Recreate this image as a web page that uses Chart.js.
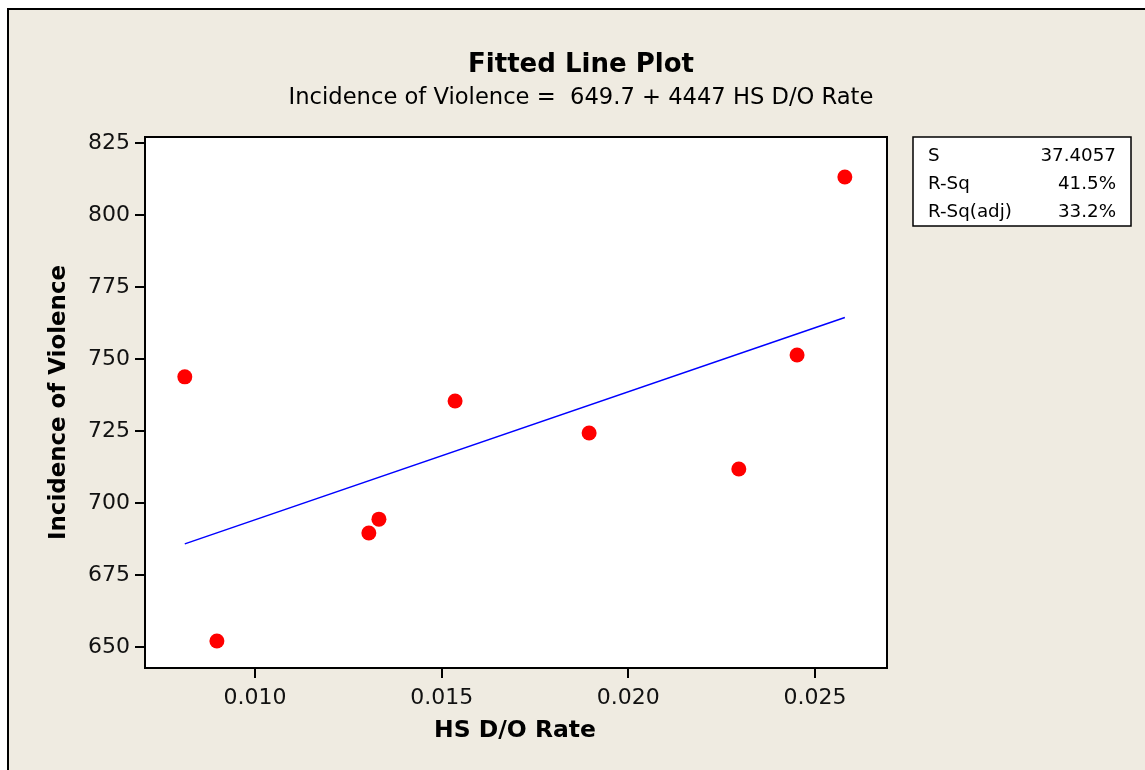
<!DOCTYPE html>
<html>
<head>
<meta charset="utf-8">
<script src="https://cdn.jsdelivr.net/npm/chart.js@4.4.1/dist/chart.umd.min.js"></script>
<style>
html,body{margin:0;padding:0;background:#fff;}
#c{display:block;}
</style>
</head>
<body>
<canvas id="c" width="1145" height="770"></canvas>
<script>
// ---- data ----
const dropoutRate = [0.00812, 0.00898, 0.01305, 0.01332, 0.01536, 0.01895, 0.02296, 0.02452, 0.02580];
const violence    = [743.8, 652.1, 689.6, 694.4, 735.4, 724.3, 711.8, 751.4, 813.2];
const fitX = [0.00812, 0.02580];
const fitY = [685.8, 764.4];
const xTicks = [0.010, 0.015, 0.020, 0.025];
const yTicks = [650, 675, 700, 725, 750, 775, 800, 825];
const titleText = 'Fitted Line Plot';
const subtitleText = 'Incidence of Violence =  649.7 + 4447 HS D/O Rate';
const xTitle = 'HS D/O Rate';
const yTitle = 'Incidence of Violence';
const statLabels = ['S', 'R-Sq', 'R-Sq(adj)'];
const statValues = ['37.4057', '41.5%', '33.2%'];

const FONT = '"DejaVu Sans", Verdana, sans-serif';

function fitFont(ctx, text, weight, family, target) {
  ctx.font = weight + ' 20px ' + family;
  const w = ctx.measureText(text).width;
  const size = 20 * target / w;
  ctx.font = weight + ' ' + size.toFixed(2) + 'px ' + family;
}

const decor = {
  id: 'decor',
  beforeDraw(chart) {
    const ctx = chart.ctx;
    const a = chart.chartArea;
    ctx.save();
    ctx.fillStyle = '#ffffff';
    ctx.fillRect(0, 0, chart.width, chart.height);
    ctx.fillStyle = '#EFEBE1';
    ctx.fillRect(8, 9, chart.width, chart.height);
    ctx.strokeStyle = '#000';
    ctx.lineWidth = 2;
    ctx.beginPath();
    ctx.moveTo(8, chart.height + 5);
    ctx.lineTo(8, 9);
    ctx.lineTo(chart.width + 5, 9);
    ctx.stroke();
    ctx.fillStyle = '#ffffff';
    ctx.fillRect(a.left, a.top, a.right - a.left, a.bottom - a.top);
    ctx.restore();
  },
  afterDraw(chart) {
    const ctx = chart.ctx;
    const a = chart.chartArea;
    ctx.save();
    ctx.strokeStyle = '#000';
    ctx.lineWidth = 2;
    ctx.strokeRect(a.left, a.top, a.right - a.left, a.bottom - a.top);
    ctx.fillStyle = '#000';
    ctx.textAlign = 'center';
    ctx.textBaseline = 'middle';
    fitFont(ctx, titleText, 'bold', FONT, 226);
    ctx.fillText(titleText, 581, 65);
    fitFont(ctx, subtitleText, 'normal', FONT, 585);
    ctx.fillText(subtitleText, 581, 98);
    fitFont(ctx, xTitle, 'bold', FONT, 162);
    ctx.fillText(xTitle, 515, 731);
    ctx.save();
    ctx.translate(59, (a.top + a.bottom) / 2);
    ctx.rotate(-Math.PI / 2);
    fitFont(ctx, yTitle, 'bold', FONT, 275);
    ctx.fillText(yTitle, 0, 0);
    ctx.restore();
    // stats box
    ctx.fillStyle = '#ffffff';
    ctx.fillRect(913, 137, 218, 89);
    ctx.lineWidth = 1.5;
    ctx.strokeRect(913, 137, 218, 89);
    ctx.fillStyle = '#000';
    fitFont(ctx, 'R-Sq(adj)', 'normal', FONT, 84);
    statLabels.forEach((l, i) => {
      const y = 156 + i * 28;
      ctx.textAlign = 'left';
      ctx.fillText(l, 928, y);
      ctx.textAlign = 'right';
      ctx.fillText(statValues[i], 1116, y);
    });
    ctx.restore();
  }
};

new Chart(document.getElementById('c'), {
  type: 'scatter',
  data: {
    datasets: [
      {
        type: 'line',
        label: 'Fit',
        data: fitX.map((x, i) => ({x, y: fitY[i]})),
        borderColor: '#0000FF',
        borderWidth: 1.5,
        pointRadius: 0,
        fill: false,
        tension: 0,
        order: 2
      },
      {
        label: 'Data',
        data: dropoutRate.map((x, i) => ({x, y: violence[i]})),
        backgroundColor: '#FF0000',
        borderWidth: 0,
        pointRadius: 7.5,
        order: 1
      }
    ]
  },
  options: {
    responsive: false,
    devicePixelRatio: 1,
    animation: false,
    layout: { padding: { left: 0, top: 137, right: 258, bottom: 0 } },
    plugins: { legend: { display: false }, tooltip: { enabled: false }, title: { display: false } },
    scales: {
      x: {
        type: 'linear',
        min: 0.007054,
        max: 0.026929,
        afterBuildTicks: s => { s.ticks = xTicks.map(v => ({value: v})); },
        afterFit: s => { s.height = 102; },
        grid: { drawOnChartArea: false, drawTicks: true, tickLength: 10, color: '#000', lineWidth: 2 },
        border: { display: false },
        ticks: {
          color: '#111',
          font: { family: FONT, size: 22 },
          padding: 7,
          maxRotation: 0,
          callback: v => v.toFixed(3)
        }
      },
      y: {
        type: 'linear',
        min: 642.71,
        max: 827.08,
        afterBuildTicks: s => { s.ticks = yTicks.map(v => ({value: v})); },
        afterFit: s => { s.width = 145; },
        grid: { drawOnChartArea: false, drawTicks: true, tickLength: 10, color: '#000', lineWidth: 2 },
        border: { display: false },
        ticks: {
          color: '#111',
          font: { family: FONT, size: 22 },
          padding: 5,
          callback: v => String(v)
        }
      }
    }
  },
  plugins: [decor]
});
</script>
</body>
</html>
